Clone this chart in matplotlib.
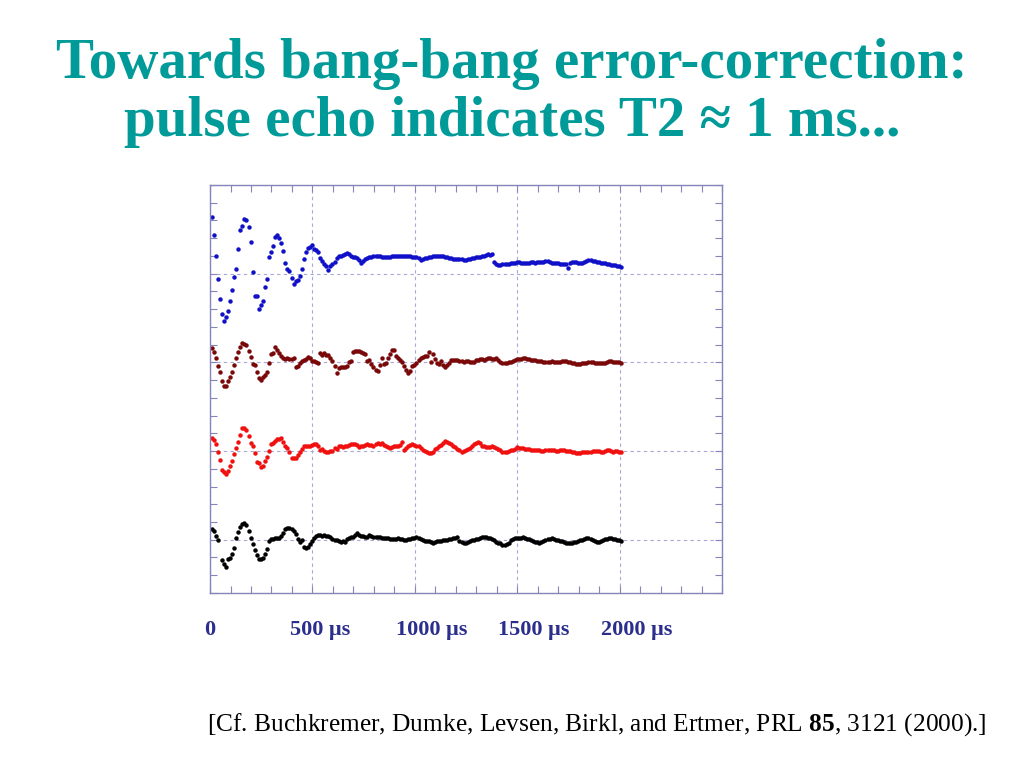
import numpy as np
import matplotlib
matplotlib.use("Agg")
import matplotlib.pyplot as plt
from matplotlib.ticker import MultipleLocator
from matplotlib.transforms import blended_transform_factory

plt.rcParams['font.family'] = ['Liberation Serif', 'DejaVu Serif']
plt.rcParams['mathtext.fontset'] = 'custom'
plt.rcParams['mathtext.rm'] = 'Liberation Serif'
plt.rcParams['mathtext.bf'] = 'Liberation Serif:bold'

# sampling of the echo traces (µs)
t_start = 8
t_step = 10

# echo signals, offset from each trace's own baseline (arbitrary units)
blue_sig = [
    57, 39, 18, -5, -25, -40, -47, -43, -37, -27,
    -16, -3, 5, 25, 44, 48, 55, 54, 47, 32,
    2, -22, -22, -35, -31, -27, -13, -5, 17, 22,
    28, 37, 39, 36, 31, 23, 11, 5, 3, -4,
    -10, -7, -6, -2, 5, 15, 22, 26, 27, 29,
    25, 24, 22, 16, 13, 10, 8, 4, 8, 10,
    12, 16, 18, 18, 19, 20, 21, 20, 18, 17,
    17, 16, 14, 11, 13, 15, 16, 17, 17, 18,
    18, 18, 18, 17, 17, 17, 17, 17, 18, 18,
    18, 18, 18, 18, 18, 18, 18, 18, 17, 17,
    17, 16, 14, 15, 16, 16, 17, 17, 18, 18,
    18, 18, 18, 18, 17, 17, 16, 16, 15, 15,
    15, 15, 15, 14, 14, 15, 15, 16, 16, 17,
    17, 17, 18, 18, 19, 20, 19, 20, 12, 10,
    9, 9, 10, 10, 10, 10, 11, 11, 11, 12,
    12, 11, 11, 11, 11, 11, 12, 12, 11, 12,
    12, 12, 12, 13, 13, 12, 11, 11, 11, 11,
    10, 10, 10, 10, 6, 11, 12, 12, 12, 11,
    11, 11, 12, 13, 14, 14, 13, 13, 12, 12,
    11, 11, 11, 10, 10, 9, 9, 9, 8, 8, 7,
]

darkred_sig = [
    14, 10, 4, -4, -10, -19, -24, -24, -19, -15,
    -10, -3, 4, 10, 15, 19, 18, 17, 11, 5,
    -2, -3, -10, -16, -18, -15, -13, -10, -1, 8,
    9, 15, 12, 9, 6, 4, 3, 4, 3, 3,
    4, -5, -4, -1, 1, 2, 3, 5, 4, 1,
    1, 0, -1, 9, 7, 9, 7, 7, 4, 1,
    -4, -11, -6, -5, -5, -5, -4, 0, 1, 10,
    11, 11, 11, 10, 9, 8, 1, 2, -2, -5,
    -8, -9, -3, 4, -2, -1, 4, 8, 12, 12,
    6, 4, 2, 0, -4, -8, -11, -9, -4, -3,
    -1, 2, 4, 5, 6, 6, 10, 0, 8, 3,
    -1, -2, 1, -3, -5, -3, -1, 2, 2, 2,
    2, 1, 1, 0, 1, 1, 0, 0, 0, 2,
    2, 3, 3, 2, 3, 4, 4, 3, 3, 4,
    2, 0, -1, -1, -1, 0, 0, 1, 2, 3,
    3, 3, 4, 4, 3, 3, 2, 2, 2, 1,
    1, 1, 0, 0, 0, 0, 1, 0, 0, 0,
    0, 1, 1, 1, 0, 0, -1, -1, -2, -2,
    -2, -1, -1, -1, 0, 0, 0, -1, -1, -1,
    -1, -1, -1, 0, 1, 1, 0, 0, 0, 0, -1,
]

red_sig = [
    13, 11, 7, -1, -9, -19, -21, -23, -20, -15,
    -10, -3, 3, 9, 16, 23, 23, 21, 15, 8,
    5, -2, -11, -12, -16, -15, -10, -6, 0, 7,
    8, 10, 12, 12, 13, 9, 5, 3, -1, -7,
    -7, -7, -4, -1, 2, 5, 5, 5, 5, 6,
    7, 7, 5, 1, 2, 0, -1, -1, 0, 0,
    3, 2, 5, 5, 4, 5, 5, 6, 7, 7,
    7, 6, 4, 5, 5, 6, 7, 6, 6, 5,
    7, 8, 7, 8, 6, 5, 4, 3, 4, 5,
    5, 5, 6, 9, 1, 3, 5, 6, 7, 6,
    5, 5, 3, 1, 0, -1, -2, -2, -1, 2,
    3, 5, 6, 8, 10, 9, 8, 7, 5, 4,
    2, 1, -1, 0, 1, 2, 3, 5, 7, 8,
    9, 8, 5, 5, 4, 4, 4, 5, 4, 3,
    2, 1, -1, -1, -1, 0, 1, 1, 2, 4,
    3, 3, 3, 2, 2, 2, 1, 1, 1, 1,
    1, 0, 0, 1, 1, 1, 1, 1, 0, 0,
    1, 1, 1, 0, 0, 0, -1, -1, -2, -2,
    -2, -1, -1, -1, -1, -1, 0, 0, 0, 0,
    -1, -1, 0, 1, 1, 0, -1, 0, 0, -1, -1,
]

black_sig = [
    11, 9, 4, 0, np.nan, -20, -24, -27, -19, -18,
    -14, -8, 2, 8, 13, 16, 17, 15, 9, 2,
    -4, -10, -15, -19, -19, -18, -14, -9, -1, 1,
    1, 2, 2, 2, 4, 7, 11, 12, 12, 11,
    9, 6, 1, -2, 0, -7, -8, -7, -4, -1,
    2, 4, 5, 5, 4, 5, 4, 4, 3, 1,
    0, 0, -1, -2, -1, -2, 1, 2, 3, 3,
    5, 7, 5, 4, 4, 3, 3, 5, 4, 3,
    3, 3, 3, 2, 2, 2, 2, 1, 1, 1,
    1, 2, 1, 1, 0, 0, 1, 1, 2, 2,
    3, 2, 1, 0, -1, -1, -1, -2, -3, -2,
    -1, -1, -1, 0, 0, 0, 1, 1, 2, 2,
    3, -1, -2, -3, -3, -2, -1, 0, 0, 1,
    1, 2, 3, 3, 3, 2, 2, 1, 0, -2,
    -3, -3, -5, -5, -4, -3, 0, 1, 2, 2,
    2, 2, 3, 2, 1, 1, 0, -1, -2, -2,
    -3, -2, -1, 0, 1, 1, 2, 1, 0, 0,
    -1, -1, -2, -3, -3, -3, -3, -2, -2, -1,
    0, 0, 1, 2, 2, 1, 0, -1, -2, -2,
    -1, 0, 1, 1, 2, 2, 1, 1, 0, 0, -1,
]

# bottom to top: black, red, dark red, blue
traces = [black_sig, red_sig, darkred_sig, blue_sig]
colors = ['#000000', '#f01010', '#7a0808', '#1010c8']
trace_gap = 89  # vertical spacing between the traces

tick_texts = ['0', '500 μs', '1000 μs', '1500 μs', '2000 μs']
tick_text_x = [0, 538, 1081, 1579, 2083]

title = 'Towards bang-bang error-correction:\npulse echo indicates T2 ≈ 1 ms...'
citation = r'[Cf. Buchkremer, Dumke, Levsen, Birkl, and Ertmer, PRL $\mathbf{85}$, 3121 (2000).]'

axis_col = '#8585bb'
grid_col = '#a8a8d8'
label_col = '#2b2e8c'
teal = '#009a99'

fig = plt.figure(figsize=(10.24, 7.68), dpi=100)
ax = fig.add_axes([0.2051, 0.2279, 0.5, 0.5312])

for i, (sig, col) in enumerate(zip(traces, colors)):
    sig = np.array(sig, dtype=float)
    t = t_start + t_step * np.arange(len(sig))
    ax.plot(t, sig + i * trace_gap, 'o', color=col, ms=3.2, mec='none')

ax.set_xlim(0, 2500)
ax.set_ylim(-53.4, 356)
ax.xaxis.set_major_locator(MultipleLocator(500))
ax.xaxis.set_minor_locator(MultipleLocator(100))
ax.yaxis.set_major_locator(MultipleLocator(trace_gap))
ax.yaxis.set_minor_locator(MultipleLocator(trace_gap / 5))
ax.tick_params(which='both', direction='in', top=True, right=True, length=5,
               width=0.8, color=axis_col, labelbottom=False, labelleft=False)
ax.grid(which='major', linestyle=(0, (3, 3)), color=grid_col, linewidth=0.8)
for sp in ax.spines.values():
    sp.set_color(axis_col)
    sp.set_linewidth(1.0)

trans = blended_transform_factory(ax.transData, ax.transAxes)
for lab, x in zip(tick_texts, tick_text_x):
    ax.text(x, -0.09, lab, transform=trans, ha='center', va='center',
            fontsize=16, fontweight='bold', color=label_col, clip_on=False)

fig.text(0.5, 0.879, title, ha='center', va='center', fontsize=41,
         fontweight='bold', color=teal, linespacing=1.17)
fig.text(0.202, 0.057, citation, ha='left', va='center', fontsize=18.3, color='black')

fig.savefig('out.png', dpi=100)
